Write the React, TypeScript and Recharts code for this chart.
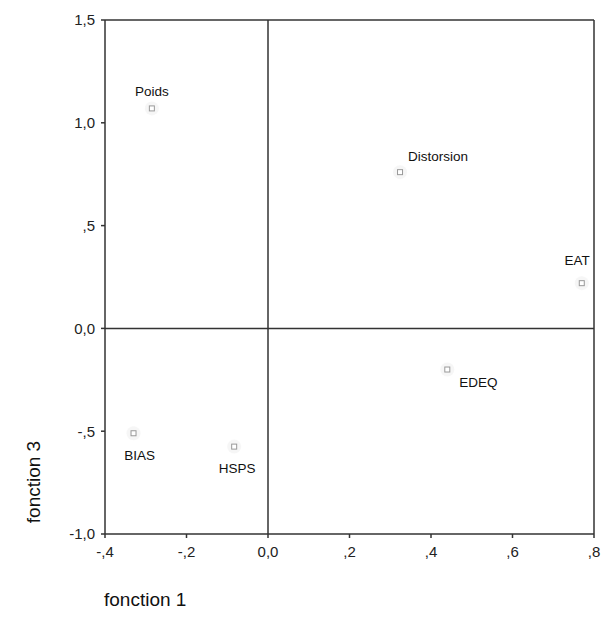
import React from 'react';
import {
  ScatterChart,
  Scatter,
  XAxis,
  YAxis,
  ReferenceLine,
  LabelList,
  Label,
} from 'recharts';

const names = ['Poids', 'Distorsion', 'EAT', 'EDEQ', 'BIAS', 'HSPS'];
const fonction1 = [-0.285, 0.324, 0.77, 0.44, -0.33, -0.083];
const fonction3 = [1.07, 0.76, 0.22, -0.2, -0.51, -0.575];

const xTicks = [-0.4, -0.2, 0, 0.2, 0.4, 0.6, 0.8];
const xTickLabels = ['-,4', '-,2', '0,0', ',2', ',4', ',6', ',8'];
const yTicks = [-1, -0.5, 0, 0.5, 1, 1.5];
const yTickLabels = ['-1,0', '-,5', '0,0', ',5', '1,0', '1,5'];

const points = names.map((name, i) => ({ name, x: fonction1[i], y: fonction3[i] }));

// where each label sits relative to its marker
const labelPlacement: Record<string, { dx: number; dy: number; anchor: string }> = {
  Poids: { dx: 0, dy: -12, anchor: 'middle' },
  Distorsion: { dx: 8, dy: -11, anchor: 'start' },
  EAT: { dx: 8, dy: -18, anchor: 'end' },
  EDEQ: { dx: 12, dy: 17, anchor: 'start' },
  BIAS: { dx: 6, dy: 27, anchor: 'middle' },
  HSPS: { dx: 3, dy: 26, anchor: 'middle' },
};

const font = '"Liberation Sans", Arial, sans-serif';
const axisColor = '#333';

const Marker = (props: any) => {
  const { cx, cy } = props;
  return (
    <g>
      <circle cx={cx} cy={cy} r={7} fill="#f2f2f2" opacity={0.7} />
      <rect x={cx - 2.5} y={cy - 2.5} width={5} height={5} fill="#fff" stroke="#999" strokeWidth={1} />
    </g>
  );
};

const PointLabel = (props: any) => {
  const { x, y, width, height, value } = props;
  const p = labelPlacement[value] || { dx: 0, dy: -10, anchor: 'middle' };
  const cx = x + (width || 0) / 2;
  const cy = y + (height || 0) / 2;
  return (
    <text
      x={cx + p.dx}
      y={cy + p.dy}
      textAnchor={p.anchor as any}
      fontFamily={font}
      fontSize={13.5}
      fill="#111"
    >
      {value}
    </text>
  );
};

export default function App() {
  return (
    <div style={{ position: 'absolute', left: 0, top: 0, background: '#fff' }}>
      <ScatterChart
        width={602}
        height={625}
        margin={{ top: 20, right: 8, bottom: 61, left: 45 }}
      >
        <XAxis
          type="number"
          dataKey="x"
          domain={[-0.4, 0.8]}
          ticks={xTicks}
          height={30}
          stroke={axisColor}
          strokeWidth={1.5}
          tickSize={4}
          tick={{ fill: '#222', fontSize: 15, fontFamily: font, dy: 6 }}
          tickFormatter={(v: number) => xTickLabels[xTicks.indexOf(v)] ?? String(v)}
        >
          <Label
            content={() => (
              <text x={104} y={606} fontFamily={font} fontSize={19} fill="#111">
                fonction 1
              </text>
            )}
          />
        </XAxis>
        <YAxis
          type="number"
          dataKey="y"
          domain={[-1, 1.5]}
          ticks={yTicks}
          width={60}
          stroke={axisColor}
          strokeWidth={1.5}
          tickSize={4}
          tick={{ fill: '#222', fontSize: 15, fontFamily: font, dx: -4 }}
          tickFormatter={(v: number) => yTickLabels[yTicks.indexOf(v)] ?? String(v)}
        >
          <Label
            content={() => (
              <text
                x={40}
                y={482}
                transform="rotate(-90 40 482)"
                textAnchor="middle"
                fontFamily={font}
                fontSize={19}
                fill="#111"
              >
                fonction 3
              </text>
            )}
          />
        </YAxis>
        <ReferenceLine y={1.5} stroke={axisColor} strokeWidth={1.5} />
        <ReferenceLine x={0.8} stroke={axisColor} strokeWidth={1.5} />
        <ReferenceLine x={0} stroke={axisColor} strokeWidth={1.5} />
        <ReferenceLine y={0} stroke={axisColor} strokeWidth={1.5} />
        <Scatter data={points} shape={<Marker />} isAnimationActive={false}>
          <LabelList dataKey="name" content={<PointLabel />} />
        </Scatter>
      </ScatterChart>
    </div>
  );
}
